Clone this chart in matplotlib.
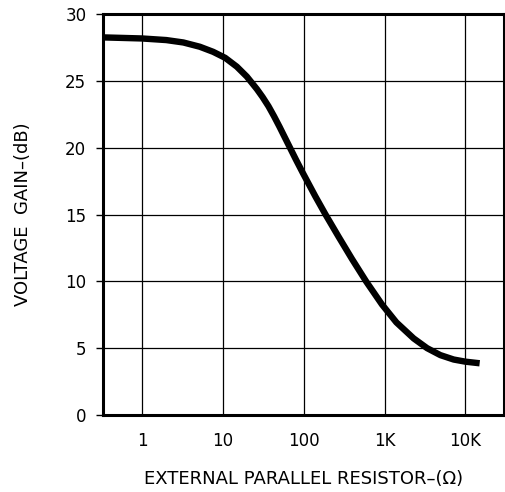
import matplotlib
matplotlib.use("Agg")
import matplotlib.pyplot as plt
from matplotlib.ticker import FixedLocator, NullLocator

# Data (resistance in ohms, gain in dB)
resistance = [0.33, 1, 2, 3.25, 5.2, 7.6, 10.7, 14.9, 19.8, 26.4, 31, 36.7, 43, 50.2, 57, 64.9, 80,
              97.8, 139, 185, 270, 395, 594, 929, 1400, 2290, 3360, 4900, 7160, 10000, 15000]
gain_db = [28.25, 28.17, 28.05, 27.87, 27.55, 27.17, 26.72, 26.06, 25.32, 24.38, 23.79, 23.10, 22.35,
           21.57, 20.90, 20.22, 19.12, 18.10, 16.37, 15.03, 13.34, 11.68, 9.98, 8.27, 6.93, 5.73,
           5.00, 4.48, 4.15, 3.99, 3.87]

x_ticks = [1, 10, 100, 1000, 10000]
x_tick_labels = ["1", "10", "100", "1K", "10K"]
y_ticks = [0, 5, 10, 15, 20, 25, 30]

plt.rcParams['font.family'] = ['DejaVu Sans']

fig = plt.figure(figsize=(5.06, 4.92), dpi=100)
ax = fig.add_axes([103/506, 1 - 415/492, (504-103)/506, (415-14)/492])

ax.set_xscale('log')
ax.set_xlim(0.33, 30000)
ax.set_ylim(0, 30)

ax.plot(resistance, gain_db, color='black', lw=4.6, solid_capstyle='butt',
        solid_joinstyle='round', zorder=3)

ax.xaxis.set_major_locator(FixedLocator(x_ticks))
ax.xaxis.set_minor_locator(NullLocator())
ax.set_xticks(x_ticks)
ax.set_xticklabels(x_tick_labels)
ax.set_yticks(y_ticks)

ax.grid(True, which='major', color='black', lw=0.9)
for s in ax.spines.values():
    s.set_linewidth(2.2)
    s.set_color('black')

ax.tick_params(axis='x', length=0, pad=12, labelsize=12)
ax.tick_params(axis='y', length=5, width=1, pad=7, labelsize=12, direction='out')

ax.set_xlabel("EXTERNAL PARALLEL RESISTOR\u2013(\u03a9)", fontsize=13, labelpad=15)
ax.set_ylabel("VOLTAGE  GAIN\u2013(dB)", fontsize=13, labelpad=24)

fig.savefig("out.png", dpi=100)
